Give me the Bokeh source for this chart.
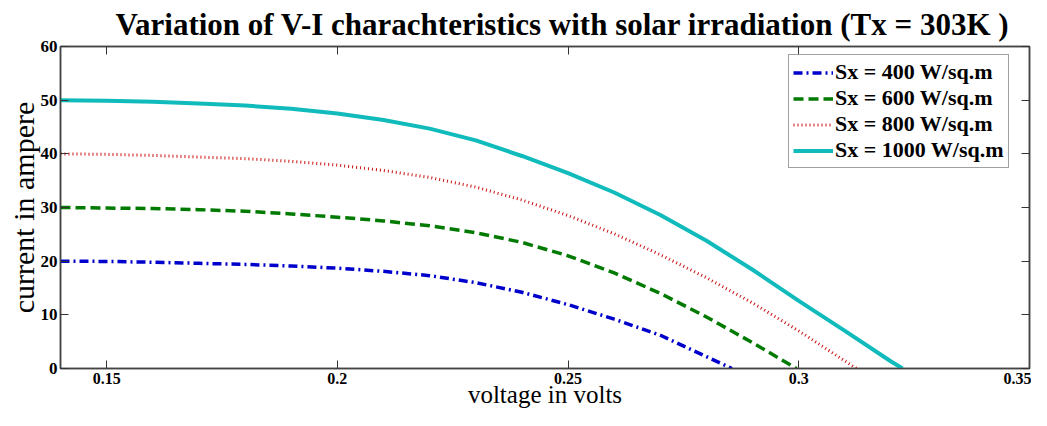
from bokeh.plotting import figure
from bokeh.models import Range1d, LinearAxis, FixedTicker, Legend, LegendItem, Title
from bokeh.embed import file_html
from bokeh.resources import INLINE

# ---- data ----
v_400 = [0.14, 0.15, 0.16, 0.17, 0.18, 0.19, 0.20, 0.21, 0.22, 0.23, 0.24, 0.25, 0.26, 0.27, 0.28, 0.2855]
i_400 = [20.0, 19.95, 19.8, 19.6, 19.4, 19.1, 18.7, 18.1, 17.3, 16.0, 14.2, 11.9, 9.2, 6.2, 2.2, 0.0]

v_600 = [0.14, 0.15, 0.16, 0.17, 0.18, 0.19, 0.20, 0.21, 0.22, 0.23, 0.24, 0.25, 0.26, 0.27, 0.28, 0.29, 0.2995]
i_600 = [30.0, 29.9, 29.8, 29.6, 29.3, 28.8, 28.2, 27.5, 26.6, 25.3, 23.5, 21.0, 17.8, 14.0, 9.6, 4.8, 0.0]

v_800 = [0.14, 0.15, 0.16, 0.17, 0.18, 0.19, 0.20, 0.21, 0.22, 0.23, 0.24, 0.25, 0.26, 0.27, 0.28, 0.29, 0.30, 0.31, 0.3125]
i_800 = [40.0, 39.9, 39.7, 39.4, 39.1, 38.6, 37.9, 36.9, 35.6, 33.8, 31.4, 28.5, 25.1, 21.2, 16.9, 12.2, 7.0, 1.4, 0.0]

v_1000 = [0.14, 0.15, 0.16, 0.17, 0.18, 0.19, 0.20, 0.21, 0.22, 0.23, 0.24, 0.25, 0.26, 0.27, 0.28, 0.29, 0.30, 0.31, 0.32, 0.3225]
i_1000 = [50.0, 49.9, 49.7, 49.4, 49.0, 48.4, 47.5, 46.3, 44.7, 42.5, 39.6, 36.4, 32.8, 28.6, 23.8, 18.4, 12.6, 7.0, 1.3, 0.0]

labels = ["Sx = 400 W/sq.m", "Sx = 600 W/sq.m", "Sx = 800 W/sq.m", "Sx = 1000 W/sq.m"]
x_ticks = [0.15, 0.2, 0.25, 0.3, 0.35]
x_tick_labels = {0.15: "0.15", 0.2: "0.2", 0.25: "0.25", 0.3: "0.3", 0.35: "0.35"}
y_ticks = [0, 10, 20, 30, 40, 50, 60]
title_text = "Variation of V-I charachteristics with solar irradiation (Tx = 303K )"
x_title = "voltage in volts"
y_title = "current in ampere"

SERIF = "Liberation Serif"

p = figure(width=1031, height=410, output_backend="svg", toolbar_location=None,
           x_range=Range1d(0.14, 0.35), y_range=Range1d(0, 60),
           min_border_left=60, min_border_right=2, min_border_top=39, min_border_bottom=40)

p.title = Title(text=title_text,
                text_font=SERIF, text_font_size="31px", text_font_style="bold",
                align="left", offset=55, text_color="black", standoff=9,
                text_line_height=1.0)

p.xgrid.visible = False
p.ygrid.visible = False
p.outline_line_color = "#444444"
p.outline_line_width = 1.5
p.background_fill_color = "white"
p.border_fill_color = "white"

def style_axis(ax, show_labels=True):
    ax.axis_line_color = "#444444"
    ax.axis_line_width = 1.5
    ax.major_tick_in = 8
    ax.major_tick_out = 0
    ax.major_tick_line_color = "#333333"
    ax.minor_tick_line_color = None
    ax.major_label_text_font = SERIF
    ax.major_label_text_font_style = "bold"
    ax.major_label_text_font_size = "17px"
    ax.major_label_text_color = "black"
    ax.major_label_text_line_height = 0.9
    ax.axis_label_text_font = SERIF
    ax.axis_label_text_font_style = "normal"
    ax.axis_label_text_color = "black"
    ax.axis_label_text_line_height = 0.9
    if not show_labels:
        ax.major_label_text_font_size = "0px"
        ax.major_label_text_alpha = 0
        ax.major_label_standoff = 0

xa = p.xaxis[0]
xa.ticker = FixedTicker(ticks=x_ticks)
xa.major_label_overrides = x_tick_labels
xa.axis_label = x_title
style_axis(xa)
xa.major_label_text_font_size = "16px"
xa.axis_label_text_font_size = "25px"
xa.axis_label_standoff = -6
xa.major_label_standoff = 4

ya = p.yaxis[0]
ya.ticker = FixedTicker(ticks=y_ticks)
ya.axis_label = y_title
style_axis(ya)
ya.axis_label_text_font_size = "30px"
ya.axis_label_standoff = -2
ya.major_label_standoff = 3

top = LinearAxis(ticker=FixedTicker(ticks=x_ticks))
style_axis(top, show_labels=False)
p.add_layout(top, "above")
right = LinearAxis(ticker=FixedTicker(ticks=y_ticks))
style_axis(right, show_labels=False)
p.add_layout(right, "right")

r1 = p.line(v_400, i_400, line_color="#0000CC", line_width=3.5, line_dash="9 4 2 4")
r2 = p.line(v_600, i_600, line_color="#007A00", line_width=3.5, line_dash="10 5")
r3 = p.line(v_800, i_800, line_color="#CC1010", line_width=3, line_dash="1 3")
r4 = p.line(v_1000, i_1000, line_color="#11BBBB", line_width=4)

legend = Legend(items=[LegendItem(label=labels[0], renderers=[r1]),
                       LegendItem(label=labels[1], renderers=[r2]),
                       LegendItem(label=labels[2], renderers=[r3]),
                       LegendItem(label=labels[3], renderers=[r4])],
                location=(728, 200))
legend.label_text_font = SERIF
legend.label_text_font_style = "bold"
legend.label_text_font_size = "22px"
legend.label_text_color = "black"
legend.glyph_width = 40
legend.glyph_height = 21
legend.label_height = 21
legend.spacing = 0
legend.padding = 4
legend.margin = 0
legend.label_standoff = 2
legend.border_line_color = "#444444"
legend.border_line_width = 1.5
legend.background_fill_alpha = 1
p.add_layout(legend, "center")

open("out.html", "w").write(file_html(p, INLINE))
